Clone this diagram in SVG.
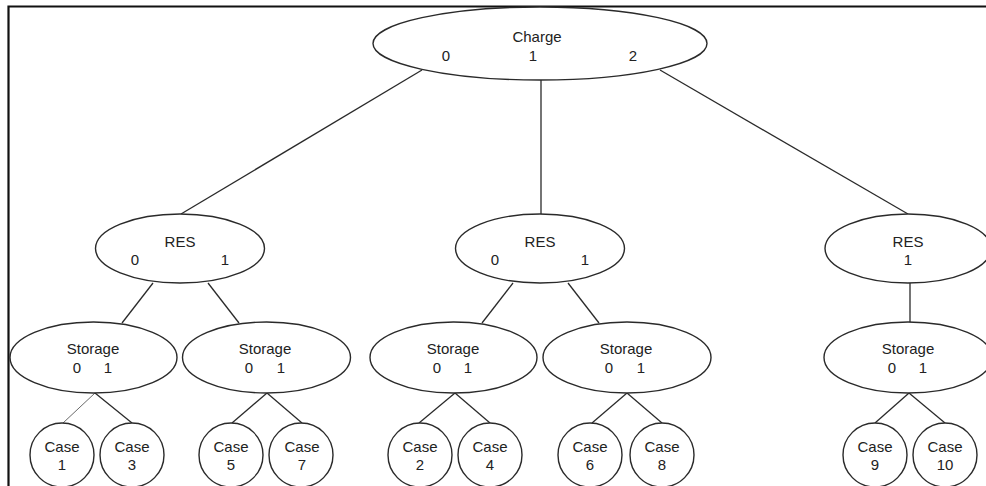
<svg xmlns="http://www.w3.org/2000/svg" width="986" height="486" viewBox="0 0 986 486">
  <style>
    .node { fill: #ffffff; stroke: #2a2a2a; stroke-width: 1.4; }
    .edge { stroke: #2a2a2a; stroke-width: 1.3; fill: none; }
    .edge.light { stroke: #6a6a6a; stroke-width: 1; }
    text { font-family: "Liberation Sans", Arial, sans-serif; font-size: 15px; fill: #222; text-anchor: middle; }
  </style>
  <rect width="986" height="486" fill="#ffffff"/>
  <!-- frame -->
  <path d="M8.5 486 V6.5 H986" fill="none" stroke="#111" stroke-width="2.2"/>

  <g id="connectors">
    <line class="edge" x1="422" y1="70" x2="181" y2="214"/>
    <line class="edge" x1="541" y1="80" x2="541" y2="214"/>
    <line class="edge" x1="660" y1="70" x2="908" y2="214"/>

    <line class="edge" x1="153" y1="283" x2="122" y2="323"/>
    <line class="edge" x1="208" y1="283" x2="239" y2="323"/>
    <line class="edge" x1="513" y1="283" x2="482" y2="323"/>
    <line class="edge" x1="568" y1="283" x2="599" y2="323"/>
    <line class="edge" x1="910" y1="283" x2="910" y2="323"/>

    <line class="edge light" x1="95" y1="393" x2="63" y2="423"/>
    <line class="edge" x1="95" y1="393" x2="132" y2="423"/>
    <line class="edge" x1="267" y1="393" x2="232" y2="423"/>
    <line class="edge" x1="267" y1="393" x2="302" y2="423"/>
    <line class="edge" x1="455" y1="393" x2="419" y2="423"/>
    <line class="edge" x1="455" y1="393" x2="490" y2="423"/>
    <line class="edge" x1="627" y1="393" x2="592" y2="423"/>
    <line class="edge" x1="627" y1="393" x2="662" y2="423"/>
    <line class="edge" x1="909" y1="393" x2="875" y2="423"/>
    <line class="edge" x1="909" y1="393" x2="945" y2="423"/>
  </g>

  <g id="charge">
    <ellipse class="node" cx="540" cy="43.5" rx="167" ry="36.5"/>
    <text x="537" y="42">Charge</text>
    <text x="446" y="61">0</text>
    <text x="533" y="61">1</text>
    <text x="633" y="61">2</text>
  </g>

  <g id="res-a">
    <ellipse class="node" cx="180" cy="248.5" rx="84.5" ry="34.5"/>
    <text x="180" y="247">RES</text>
    <text x="135" y="265">0</text>
    <text x="225" y="265">1</text>
  </g>
  <g id="res-b">
    <ellipse class="node" cx="540" cy="248.5" rx="84.5" ry="34.5"/>
    <text x="540" y="247">RES</text>
    <text x="495" y="265">0</text>
    <text x="585" y="265">1</text>
  </g>
  <g id="res-c">
    <ellipse class="node" cx="908" cy="248.5" rx="83" ry="34.5"/>
    <text x="908" y="247">RES</text>
    <text x="908" y="265">1</text>
  </g>

  <g id="storage-a1">
    <ellipse class="node" cx="93.5" cy="357.5" rx="83.5" ry="35.5"/>
    <text x="93" y="354">Storage</text>
    <text x="77" y="373">0</text>
    <text x="108" y="373">1</text>
  </g>
  <g id="storage-a2">
    <ellipse class="node" cx="266.5" cy="357.5" rx="84" ry="35.5"/>
    <text x="265" y="354">Storage</text>
    <text x="249" y="373">0</text>
    <text x="281" y="373">1</text>
  </g>
  <g id="storage-b1">
    <ellipse class="node" cx="453.5" cy="357.5" rx="83.5" ry="35.5"/>
    <text x="453" y="354">Storage</text>
    <text x="437" y="373">0</text>
    <text x="468" y="373">1</text>
  </g>
  <g id="storage-b2">
    <ellipse class="node" cx="627" cy="357.5" rx="84" ry="35.5"/>
    <text x="626" y="354">Storage</text>
    <text x="609" y="373">0</text>
    <text x="641" y="373">1</text>
  </g>
  <g id="storage-c">
    <ellipse class="node" cx="908" cy="357.5" rx="84" ry="35.5"/>
    <text x="908" y="354">Storage</text>
    <text x="892" y="373">0</text>
    <text x="923" y="373">1</text>
  </g>

  <g id="case-1">
    <circle class="node" cx="62" cy="455" r="32"/>
    <text x="62" y="452">Case</text>
    <text x="62" y="470">1</text>
  </g>
  <g id="case-3">
    <circle class="node" cx="132" cy="455" r="32"/>
    <text x="132" y="452">Case</text>
    <text x="132" y="470">3</text>
  </g>
  <g id="case-5">
    <circle class="node" cx="231" cy="455" r="32"/>
    <text x="231" y="452">Case</text>
    <text x="231" y="470">5</text>
  </g>
  <g id="case-7">
    <circle class="node" cx="301" cy="455" r="32"/>
    <text x="302" y="452">Case</text>
    <text x="302" y="470">7</text>
  </g>
  <g id="case-2">
    <circle class="node" cx="420" cy="455" r="32"/>
    <text x="420" y="452">Case</text>
    <text x="420" y="470">2</text>
  </g>
  <g id="case-4">
    <circle class="node" cx="490" cy="455" r="32"/>
    <text x="490" y="452">Case</text>
    <text x="490" y="470">4</text>
  </g>
  <g id="case-6">
    <circle class="node" cx="590" cy="455" r="32"/>
    <text x="590" y="452">Case</text>
    <text x="590" y="470">6</text>
  </g>
  <g id="case-8">
    <circle class="node" cx="662" cy="455" r="32"/>
    <text x="662" y="452">Case</text>
    <text x="662" y="470">8</text>
  </g>
  <g id="case-9">
    <circle class="node" cx="875" cy="455" r="32"/>
    <text x="875" y="452">Case</text>
    <text x="875" y="470">9</text>
  </g>
  <g id="case-10">
    <circle class="node" cx="945" cy="455" r="32"/>
    <text x="945" y="452">Case</text>
    <text x="945" y="470">10</text>
  </g>
</svg>
